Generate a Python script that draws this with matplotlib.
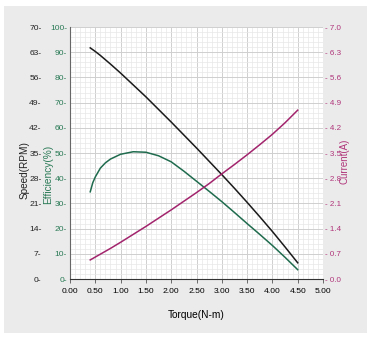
import numpy as np
import matplotlib
matplotlib.use("Agg")
import matplotlib.pyplot as plt
from matplotlib.ticker import MultipleLocator, FixedLocator, FixedFormatter
from matplotlib.patches import Rectangle

plt.rcParams['font.family'] = ['Liberation Sans', 'DejaVu Sans']

# data
torque = [0.4, 0.45, 0.5, 0.6, 0.7, 0.8, 1.0, 1.25, 1.5, 1.75, 2.0, 2.25, 2.5,
          2.75, 3.0, 3.25, 3.5, 3.75, 4.0, 4.25, 4.5]
speed = [64.2, 63.7, 63.2, 62.1, 60.9, 59.7, 57.2, 53.9, 50.6, 47.1, 43.6, 40.0, 36.4,
         32.7, 29.0, 25.2, 21.3, 17.3, 13.2, 8.9, 4.5]
efficiency = [34.6, 38.2, 40.5, 44.0, 46.1, 47.6, 49.5, 50.5, 50.3, 48.9, 46.5, 42.8, 38.8,
              34.8, 30.7, 26.4, 22.0, 17.7, 13.3, 8.6, 3.7]
current = [0.53, 0.57, 0.61, 0.69, 0.77, 0.85, 1.02, 1.24, 1.46, 1.69, 1.92, 2.16, 2.40,
           2.65, 2.92, 3.18, 3.45, 3.73, 4.02, 4.34, 4.69]

x_ticks = [0, 0.5, 1.0, 1.5, 2.0, 2.5, 3.0, 3.5, 4.0, 4.5, 5.0]
speed_ticks = [0, 7, 14, 21, 28, 35, 42, 49, 56, 63, 70]
eff_ticks = [0, 10, 20, 30, 40, 50, 60, 70, 80, 90, 100]
cur_ticks = [0.0, 0.7, 1.4, 2.1, 2.8, 3.5, 4.2, 4.9, 5.6, 6.3, 7.0]

c_speed = '#1a1a1a'
c_eff = '#1f6b4e'
c_cur = '#a2246c'
c_eff_txt = '#2a7a56'
c_cur_txt = '#b0357a'
fs = 6.1

fig = plt.figure(figsize=(3.71, 3.41), dpi=100, facecolor='white')
fig.patches.append(Rectangle((4/371, 8/341), 363/371, 327/341, transform=fig.transFigure,
                             facecolor='#ebebeb', edgecolor='none', zorder=-10))

ax = fig.add_axes([70/371, 62/341, 253/371, 252/341])
ax.set_facecolor('white')
ax.set_xlim(0, 5)
ax.set_ylim(0, 100)
ax.xaxis.set_major_locator(FixedLocator(x_ticks))
ax.xaxis.set_major_formatter(FixedFormatter(['%.2f' % v for v in x_ticks]))
ax.xaxis.set_minor_locator(MultipleLocator(0.1))
ax.yaxis.set_major_locator(FixedLocator(eff_ticks))
ax.yaxis.set_major_formatter(FixedFormatter(['%d-' % v for v in eff_ticks]))
ax.yaxis.set_minor_locator(MultipleLocator(2))
ax.grid(which='major', color='#cfcfcf', linewidth=0.7)
ax.grid(which='minor', color='#e8e8e8', linewidth=0.5)
ax.set_axisbelow(True)
ax.tick_params(axis='x', which='major', direction='out', length=3, width=0.6,
               color='#555555', labelsize=fs, pad=3.5)
ax.tick_params(axis='y', which='major', length=0, labelsize=fs, pad=2,
               labelcolor=c_eff_txt)
ax.tick_params(which='minor', length=0)
for s in ['top', 'right']:
    ax.spines[s].set_visible(False)
ax.spines['left'].set_color('#666666')
ax.spines['bottom'].set_color('#333333')
ax.spines['left'].set_linewidth(0.8)
ax.spines['bottom'].set_linewidth(0.8)
ax.plot(torque, efficiency, color=c_eff, linewidth=1.1)
ax.set_xlabel('Torque(N-m)', fontsize=7.3, labelpad=11)

# speed axis (left, offset)
ax_s = ax.twinx()
ax_s.set_ylim(0, 70)
ax_s.yaxis.set_ticks_position('left')
ax_s.spines['left'].set_position(('outward', 20.5))
for s in ['left', 'right', 'top', 'bottom']:
    ax_s.spines[s].set_visible(False)
ax_s.yaxis.set_major_locator(FixedLocator(speed_ticks))
ax_s.yaxis.set_major_formatter(FixedFormatter(['%d-' % v for v in speed_ticks]))
ax_s.tick_params(axis='y', length=0, labelsize=fs, pad=0, labelcolor='#222222')
ax_s.plot(torque, speed, color=c_speed, linewidth=1.1)

# current axis (right)
ax_c = ax.twinx()
ax_c.set_ylim(0, 7)
for s in ['left', 'right', 'top', 'bottom']:
    ax_c.spines[s].set_visible(False)
ax_c.yaxis.set_major_locator(FixedLocator(cur_ticks))
ax_c.yaxis.set_major_formatter(FixedFormatter(['- %.1f' % v for v in cur_ticks]))
ax_c.tick_params(axis='y', length=0, labelsize=5.8, pad=1.2, labelcolor=c_cur_txt)
ax_c.plot(torque, current, color=c_cur, linewidth=1.1)

# axis titles placed like the reference
fig.text(25/371, 1 - 170/341, 'Speed(RPM)', rotation=90, ha='center', va='center',
         fontsize=7.2, color='#222222')
fig.text(48/371, 1 - 174/341, 'Efficiency(%)', rotation=90, ha='center', va='center',
         fontsize=7.3, color=c_eff_txt)
fig.text(345/371, 1 - 161/341, 'Current(A)', rotation=90, ha='center', va='center',
         fontsize=7.0, color=c_cur_txt)

fig.savefig('out.png', dpi=100, facecolor=fig.get_facecolor())
